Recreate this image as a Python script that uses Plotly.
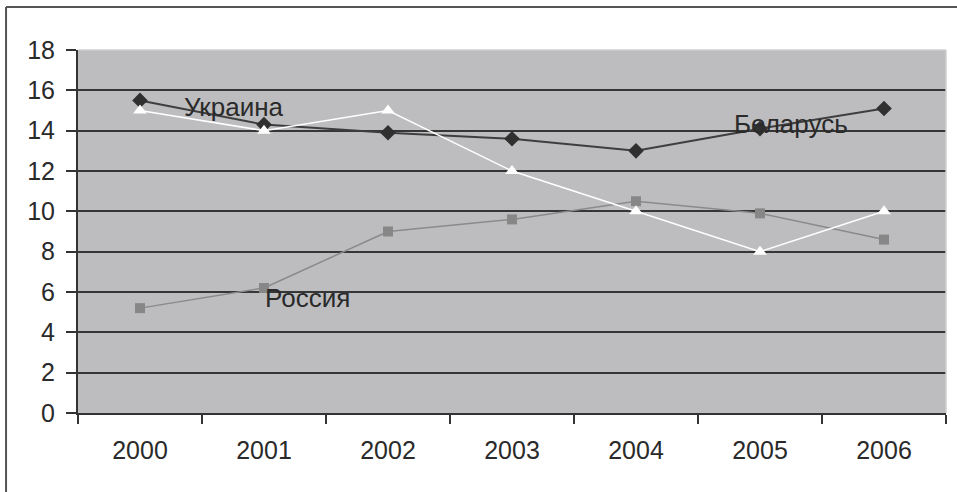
import plotly.graph_objects as go

years = ["2000", "2001", "2002", "2003", "2004", "2005", "2006"]
belarus = [15.5, 14.3, 13.9, 13.6, 13.0, 14.1, 15.1]
russia = [5.2, 6.2, 9.0, 9.6, 10.5, 9.9, 8.6]
ukraine = [15.0, 14.0, 15.0, 12.0, 10.0, 8.0, 10.0]
y_ticks = [0, 2, 4, 6, 8, 10, 12, 14, 16, 18]

FONT = "Liberation Sans, Arial, sans-serif"
TXT = "#2a2a2a"

fig = go.Figure()
fig.add_trace(go.Scatter(
    x=years, y=russia, mode="lines+markers", name="Россия",
    line=dict(color="#8a8a8a", width=1.5),
    marker=dict(symbol="square", size=10, color="#878787"),
))
fig.add_trace(go.Scatter(
    x=years, y=belarus, mode="lines+markers", name="Беларусь",
    line=dict(color="#3e3e3e", width=2),
    marker=dict(symbol="diamond", size=12, color="#303030"),
))
fig.add_trace(go.Scatter(
    x=years, y=ukraine, mode="lines+markers", name="Украина",
    line=dict(color="#ffffff", width=1.5),
    marker=dict(symbol="triangle-up", size=12, color="#ffffff"),
))

# series name labels placed beside their lines
labels = [("Украина", 0.76, 15.15), ("Беларусь", 5.25, 14.35), ("Россия", 1.35, 5.7)]
for text, xi, yi in labels:
    fig.add_annotation(x=xi, y=yi, xref="x", yref="y", text=text, showarrow=False,
                       font=dict(family=FONT, size=26, color=TXT))

# outer frame of the chart area and light edges of the plot box
fig.add_shape(type="line", xref="paper", yref="paper", x0=-0.0829, x1=-0.0829, y0=-0.3, y1=1.1185,
              line=dict(color="#555555", width=2))
fig.add_shape(type="line", xref="paper", yref="paper", x0=-0.0829, x1=1.2, y0=1.1185, y1=1.1185,
              line=dict(color="#555555", width=2))
fig.add_shape(type="line", xref="paper", yref="paper", x0=0, x1=1, y0=1, y1=1,
              line=dict(color="#cfcfcf", width=1.5), layer="above")
fig.add_shape(type="line", xref="paper", yref="paper", x0=1, x1=1, y0=0, y1=1,
              line=dict(color="#cfcfcf", width=1.5), layer="above")

fig.update_layout(
    width=957, height=492,
    margin=dict(l=78, r=11, t=50, b=79),
    paper_bgcolor="white",
    plot_bgcolor="#bdbdc0",
    showlegend=False,
    font=dict(family=FONT, size=25, color=TXT),
)
fig.update_xaxes(
    type="category", range=[-0.5, 6.5], tickson="boundaries", ticks="outside", ticklen=9,
    tickwidth=2, tickcolor="#333333", showgrid=False,
    showline=True, linecolor="#333333", linewidth=2,
    ticklabelstandoff=14, tickfont=dict(family=FONT, size=25, color=TXT),
)
fig.update_yaxes(
    range=[0, 18], tickvals=y_ticks, ticks="outside", ticklen=10,
    tickwidth=2, tickcolor="#333333",
    showgrid=True, gridcolor="#363636", gridwidth=2,
    zeroline=False, showline=True, linecolor="#333333", linewidth=2,
    ticklabelstandoff=6, tickfont=dict(family=FONT, size=25, color=TXT),
)

fig.write_html("out.html")
